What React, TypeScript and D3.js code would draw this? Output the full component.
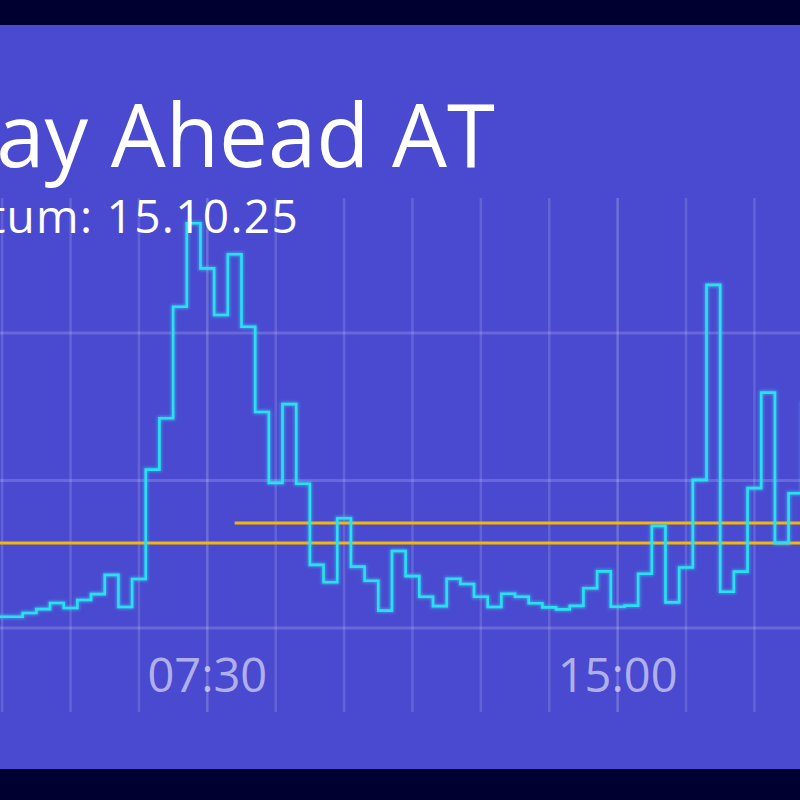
import React from "react";
import * as d3 from "d3";

// ---- Data ----
const TITLE = "Day Ahead AT";
const SUBTITLE = "Datum: 15.10.25";
// quarter-hour prices, first interval starts 03:37:30, each lasts 15 minutes
const SERIES_START_MIN = 217.5;
const STEP_MIN = 15;
const prices = [
  10.38, 10.38, 10.51, 10.64, 10.85, 10.68, 10.95, 11.15, 11.8, 10.71, 11.66,
  15.37, 17.11, 20.89, 23.72, 22.19, 20.61, 22.67, 20.21, 17.32, 14.92, 17.59,
  14.89, 12.14, 11.55, 13.72, 12.08, 11.6, 10.59, 12.61, 11.76, 11.06, 10.74,
  11.67, 11.49, 11.06, 10.71, 11.16, 11.06, 10.84, 10.7, 10.63, 10.75, 11.35,
  11.92, 10.72, 10.76, 11.84, 13.46, 10.87, 12.05, 15.02, 21.63, 11.23, 11.91,
  14.74, 17.98, 12.88, 14.57, 17.63, 17.63,
];
// reference lines: value and start minute
const refLevels = [12.88, 13.56];
const refStarts = [0, 480];
const yGridValues = [10, 15, 20];
const xGridStepMin = 75;
const xLabelStepMin = 450;

const W = 800;
const H = 800;

function fmt(min: number) {
  const h = Math.floor(min / 60);
  const m = Math.round(min % 60);
  return `${String(h).padStart(2, "0")}:${String(m).padStart(2, "0")}`;
}

export default function App() {
  const x = d3.scaleLinear().domain([0, 1440]).range([-203, 1110]);
  const y = d3.scaleLinear().domain([10, 20]).range([628, 333]);

  const pts: [number, number][] = prices.map((v, i) => [
    SERIES_START_MIN + i * STEP_MIN,
    v,
  ]);
  pts.push([
    SERIES_START_MIN + prices.length * STEP_MIN,
    prices[prices.length - 1],
  ]);
  const line = d3
    .line<[number, number]>()
    .x((d) => x(d[0]))
    .y((d) => y(d[1]))
    .curve(d3.curveStepAfter);
  const path = line(pts) || "";

  const xGrid = d3.range(0, 1441, xGridStepMin);
  const visibleX = xGrid.filter((t) => x(t) >= -5 && x(t) <= W + 5);

  const gridTop = 198;
  const gridBottom = 712;

  return (
    <svg
      width={W}
      height={H}
      style={{ position: "absolute", left: 0, top: 0, display: "block" }}
      fontFamily="'Open Sans', 'Noto Sans', sans-serif"
    >
      <defs>
        <filter id="glow" x="-20%" y="-20%" width="140%" height="140%">
          <feGaussianBlur stdDeviation="1.6" />
        </filter>
        <clipPath id="panel">
          <rect x={0} y={25} width={W} height={744} />
        </clipPath>
      </defs>
      <rect x={0} y={0} width={W} height={H} fill="#000030" />
      <rect x={0} y={25} width={W} height={744} fill="#4a4ad0" />

      <g clipPath="url(#panel)">
        {/* vertical grid */}
        {visibleX.map((t) => (
          <line
            key={"vx" + t}
            x1={x(t)}
            x2={x(t)}
            y1={gridTop}
            y2={gridBottom}
            stroke="#ffffff"
            strokeOpacity={t % xLabelStepMin === 0 ? 0.2 : 0.14}
            strokeWidth={2.5}
          />
        ))}
        {/* horizontal grid */}
        {yGridValues.map((v) => (
          <line
            key={"hy" + v}
            x1={0}
            x2={W}
            y1={y(v)}
            y2={y(v)}
            stroke="#ffffff"
            strokeOpacity={0.17}
            strokeWidth={3}
          />
        ))}

        {/* reference lines */}
        {refLevels.map((v, i) => (
          <line
            key={"ref" + i}
            x1={Math.max(0, x(refStarts[i]))}
            x2={W}
            y1={y(v)}
            y2={y(v)}
            stroke="#f2b705"
            strokeWidth={3}
          />
        ))}

        {/* price line */}
        <path
          d={path}
          fill="none"
          stroke="#2ee6f2"
          strokeWidth={4}
          strokeOpacity={0.55}
          filter="url(#glow)"
        />
        <path d={path} fill="none" stroke="#28e0ee" strokeWidth={2.6} />

        {/* x labels */}
        {visibleX
          .filter((t) => t % xLabelStepMin === 0)
          .map((t) => (
            <text
              key={"lx" + t}
              x={x(t)}
              y={692}
              textAnchor="middle"
              fontSize={47}
              fill="#ffffff"
              fillOpacity={0.58}
            >
              {fmt(t)}
            </text>
          ))}

        {/* titles */}
        <text x={495} y={167} textAnchor="end" fontSize={87} fill="#ffffff">
          {TITLE}
        </text>
        <text
          x={299}
          y={233}
          textAnchor="end"
          fontSize={46}
          letterSpacing={1.3}
          fill="#ffffff"
        >
          {SUBTITLE}
        </text>
      </g>
    </svg>
  );
}
